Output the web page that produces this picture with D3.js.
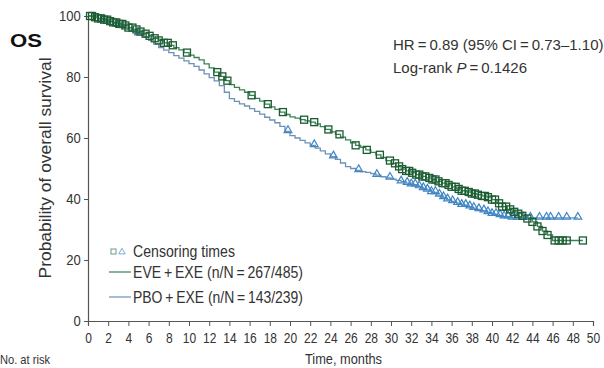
<!DOCTYPE html>
<html><head><meta charset="utf-8">
<script src="https://cdn.jsdelivr.net/npm/d3@7"></script>
<style>body{margin:0;background:#fff}svg{display:block}</style>
</head><body>
<svg id="c" width="604" height="368"></svg>
<script>
// ---- data ----
const xTicks = [0,2,4,6,8,10,12,14,16,18,20,22,24,26,28,30,32,34,36,38,40,42,44,46,48,50];
const yTicks = [0,20,40,60,80,100];
const seriesNames = ["EVE\u2009+\u2009EXE (n/N\u2009=\u2009267/485)", "PBO\u2009+\u2009EXE (n/N\u2009=\u2009143/239)"];
const eveTime = [0,0.5,1,1.5,2,2.5,3,3.5,4,4.5,5,5.5,6,6.5,7,7.5,8,8.5,9,9.5,10,10.5,11,11.5,12,12.5,13,13.5,14,14.5,15,15.5,16,16.5,17,17.5,18,18.5,19,19.5,20,20.5,21,21.5,22,22.5,23,23.5,24,24.5,25,25.5,26,26.5,27,27.5,28,28.5,29,29.5,30,30.5,31,31.5,32,32.5,33,33.5,34,34.5,35,35.5,36,36.5,37,37.5,38,38.5,39,39.5,40,40.5,41,41.5,42,42.5,43,43.5,44,44.5,45,45.5,46,49];
const eveSurv = [100,99.6,99.2,98.8,98.3,97.9,97.4,96.9,96.2,95.6,94.9,94.2,93.5,92.7,92.0,91.2,90.4,89.6,88.9,88.0,87.2,86.4,85.6,84.3,83.0,81.6,80.2,78.8,77.5,76.6,75.8,75.0,74.0,73.0,72.1,71.1,70.2,69.4,68.5,67.7,66.9,66.5,66.0,65.6,65.2,64.6,63.7,62.8,62.0,61.2,60.3,59.4,58.4,57.6,56.9,56.1,55.3,54.5,53.6,52.6,51.7,50.7,49.8,49.2,48.6,48.0,47.4,46.9,46.4,45.8,45.2,44.6,44.0,43.3,42.7,42.3,41.8,41.4,41.0,40.6,39.8,38.6,37.5,36.6,35.8,35.2,34.5,33.6,32.5,31.0,29.5,28.2,26.4,26.4];
const pboTime = [0,0.5,1,1.5,2,2.5,3,3.5,4,4.5,5,5.5,6,6.5,7,7.5,8,8.5,9,9.5,10,10.5,11,11.5,12,12.5,13,13.5,14,14.5,15,15.5,16,16.5,17,17.5,18,18.5,19,19.5,20,20.5,21,21.5,22,22.5,23,23.5,24,24.5,25,25.5,26,26.5,27,27.5,28,28.5,29,29.5,30,30.5,31,31.5,32,32.5,33,33.5,34,34.5,35,35.5,36,36.5,37,37.5,38,38.5,39,39.5,40,40.5,41,42,48.5];
const pboSurv = [100,99.6,99.1,98.6,98.1,97.6,97.0,96.4,95.7,95.0,94.2,93.2,92.0,90.8,89.6,88.8,88.0,87.0,86.2,85.3,84.4,83.5,82.3,81.0,79.8,78.7,77.2,75.0,72.9,72.0,71.2,70.5,69.6,68.7,67.8,66.8,65.9,65.0,63.8,62.2,60.8,60.0,59.2,58.4,57.6,56.7,55.8,54.8,53.9,53.0,51.8,50.6,50.0,49.4,49.0,48.7,48.3,47.8,47.3,46.9,46.5,46.1,45.7,45.2,44.7,44.1,43.5,43.0,42.2,41.3,40.5,39.8,39.2,38.6,38.0,37.5,37.0,36.6,36.2,35.6,35.0,34.6,34.2,33.8,33.8];
const eveCensor = [0.2,0.4,0.7,1,1.3,1.6,1.9,2.2,2.5,2.8,3.1,3.4,3.7,4,4.4,4.8,5.2,5.7,6.1,6.6,7,7.5,7.9,8.4,9.8,12.8,13.3,13.8,16.2,17.8,19.3,21.4,22.4,23.8,24.9,26.5,27.6,28.9,29.9,30.4,30.8,31.1,31.5,31.8,32.1,32.5,32.8,33.1,33.4,33.8,34.1,34.4,34.7,35.1,35.4,35.7,36.0,36.4,36.7,37.0,37.3,37.7,38.0,38.3,38.6,39.0,39.3,39.6,40.0,40.3,40.7,41.0,41.4,41.8,42.2,42.6,43.0,43.5,44.0,44.5,45.0,45.5,46.2,46.6,47.0,47.4,49.0];
const pboCensor = [1.5,3,5,19.8,22.4,24.3,26.8,28.6,29.9,31.0,31.6,32.0,32.4,32.8,33.2,33.6,34.0,34.4,34.8,35.2,35.6,36.1,36.6,37.0,37.4,37.8,38.2,38.7,39.2,39.6,40.0,40.4,40.8,41.2,41.6,42.0,42.5,43.1,43.8,44.7,45.4,45.8,46.6,47.4,48.5];

// ---- chart ----
const svg = d3.select("#c");
const FONT = "'Liberation Sans',Arial,sans-serif";
const x = d3.scaleLinear().domain([0,50]).range([88,593]);
const y = d3.scaleLinear().domain([0,100]).range([321,16]);

const greenLine = "#3a8357", greenMark = "#1c5c31";
const blueLine = "#6d92b6", blueMark = "#3f86c6";
const ink = "#333";

// axes
const yAxis = svg.append("g").attr("transform","translate(88,0)")
  .call(d3.axisLeft(y).tickValues(yTicks).tickSize(4).tickPadding(4));
const xAxis = svg.append("g").attr("transform","translate(0,321)")
  .call(d3.axisBottom(x).tickValues(xTicks).tickSize(5).tickPadding(6));
[yAxis,xAxis].forEach(a=>{
  a.select(".domain").attr("stroke","#555").attr("stroke-width",1.2);
  a.selectAll(".tick line").attr("stroke","#555").attr("stroke-width",1);
  a.selectAll("text").attr("font-family",FONT).attr("fill",ink);
});
yAxis.selectAll("text").attr("font-size",14.5).attr("transform","scale(0.9,1)");
xAxis.selectAll("text").attr("font-size",15).attr("transform","scale(0.8,1)");

function pts(t,s){ return t.map((v,i)=>[v,s[i]]); }
function stepAt(t,s,v){ let k=0; for(let i=0;i<t.length;i++){ if(t[i]<=v) k=i; } return s[k]; }

const line = d3.line().x(d=>x(d[0])).y(d=>y(d[1])).curve(d3.curveStepAfter);

svg.append("path").datum(pts(pboTime,pboSurv)).attr("d",line)
  .attr("fill","none").attr("stroke",blueLine).attr("stroke-width",1.3);
svg.append("path").datum(pts(eveTime,eveSurv)).attr("d",line)
  .attr("fill","none").attr("stroke",greenLine).attr("stroke-width",1.3);

// censor marks
const tri = d3.symbol().type(d3.symbolTriangle).size(26);
svg.append("g").selectAll("path").data(pboCensor).join("path")
  .attr("d",tri)
  .attr("transform",d=>`translate(${x(d)},${y(stepAt(pboTime,pboSurv,d))-1})`)
  .attr("fill","none").attr("stroke",blueMark).attr("stroke-width",1.2);
svg.append("g").selectAll("rect").data(eveCensor).join("rect")
  .attr("x",d=>x(d)-3.5).attr("y",d=>y(stepAt(eveTime,eveSurv,d))-3.5)
  .attr("width",7).attr("height",7)
  .attr("fill","none").attr("stroke",greenMark).attr("stroke-width",1.3);

// text helper: fit text to a width
function label(xp, yp, size, width, opts={}){
  const t = svg.append("text").attr("x",xp).attr("y",yp)
    .attr("font-family",FONT).attr("font-size",size).attr("fill",opts.fill||ink);
  if(opts.anchor) t.attr("text-anchor",opts.anchor);
  if(opts.weight) t.attr("font-weight",opts.weight);
  if(opts.rotate) t.attr("transform",`rotate(-90,${xp},${yp})`);
  if(width){ t.attr("textLength",width).attr("lengthAdjust","spacingAndGlyphs"); }
  return t;
}
label(10,47,18,32,{weight:"bold",fill:"#111"}).text("OS");
label(51,168,16,221,{anchor:"middle",rotate:true}).text("Probability of overall survival");
label(393,50,15,null).text("HR\u2009=\u20090.89 (95% CI\u2009=\u20090.73–1.10)");
const lr = label(393,73,15,null);
lr.append("tspan").text("Log-rank ");
lr.append("tspan").attr("font-style","italic").text("P");
lr.append("tspan").text("\u2009=\u20090.1426");
label(305,364,15,77).text("Time, months");
label(0,364,13,50).text("No. at risk");

// legend
svg.append("rect").attr("x",111).attr("y",249).attr("width",5).attr("height",5).attr("fill","none").attr("stroke","#6a9a86").attr("stroke-width",1);
svg.append("path").attr("d",d3.symbol().type(d3.symbolTriangle).size(18)).attr("transform","translate(122,252)").attr("fill","none").attr("stroke","#7aaad6").attr("stroke-width",1);
label(133,257,16,102).text("Censoring times");
const leg = [[seriesNames[0],greenLine,272],[seriesNames[1],blueLine,297]];
leg.forEach(([name,col,yy])=>{
  svg.append("line").attr("x1",109).attr("x2",131).attr("y1",yy).attr("y2",yy).attr("stroke",col).attr("stroke-width",1.2);
  label(133,yy+6,16,170).text(name);
});
</script>
</body></html>
